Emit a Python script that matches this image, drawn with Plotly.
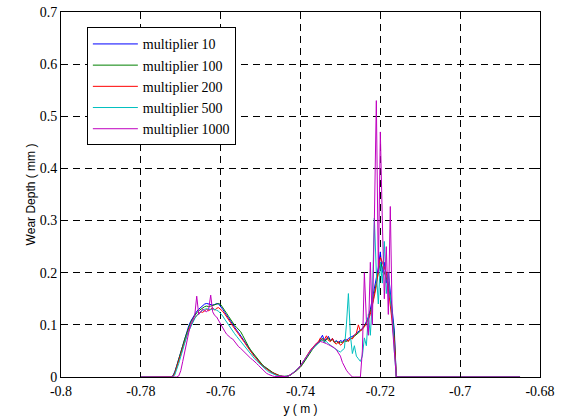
import plotly.graph_objects as go

# sampling grid (m)
X = [-0.78] + [round(-0.773 + 0.0005 * i, 4) for i in range(116)] + [-0.685]

m10 = [0, 0, 0.002, 0.01, 0.022, 0.035, 0.048, 0.062, 0.075, 0.088,
       0.098, 0.107, 0.114, 0.121, 0.126, 0.13, 0.134, 0.138, 0.14, 0.141,
       0.14, 0.139, 0.138, 0.139, 0.141, 0.14, 0.136, 0.13, 0.124, 0.118,
       0.112, 0.106, 0.1, 0.095, 0.09, 0.085, 0.079, 0.073, 0.067, 0.061,
       0.055, 0.05, 0.045, 0.04, 0.035, 0.03, 0.026, 0.022, 0.019, 0.016,
       0.013, 0.011, 0.008, 0.006, 0.004, 0.003, 0.002, 0.001, 0.001, 0.001,
       0.002, 0.004, 0.007, 0.01, 0.013, 0.016, 0.02, 0.026, 0.032, 0.04,
       0.046, 0.05, 0.055, 0.06, 0.064, 0.066, 0.072, 0.08, 0.07, 0.073,
       0.078, 0.07, 0.074, 0.067, 0.07, 0.066, 0.07, 0.068, 0.072, 0.07,
       0.074, 0.076, 0.078, 0.08, 0.084, 0.087, 0.09, 0.093, 0.098, 0.105,
       0.115, 0.13, 0.15, 0.165, 0.19, 0.21, 0.24, 0.2, 0.22, 0.18,
       0.2, 0.16, 0.12, 0.09, 0, 0]

m100 = [0, 0, 0.001, 0.008, 0.02, 0.033, 0.047, 0.06, 0.073, 0.085,
        0.096, 0.105, 0.112, 0.118, 0.123, 0.127, 0.13, 0.133, 0.135, 0.136,
        0.135, 0.136, 0.137, 0.139, 0.14, 0.141, 0.139, 0.134, 0.128, 0.122,
        0.116, 0.11, 0.104, 0.099, 0.095, 0.091, 0.087, 0.08, 0.072, 0.065,
        0.058, 0.052, 0.047, 0.042, 0.037, 0.032, 0.027, 0.023, 0.02, 0.017,
        0.014, 0.011, 0.009, 0.007, 0.005, 0.003, 0.002, 0.001, 0.001, 0.001,
        0.002, 0.004, 0.006, 0.009, 0.012, 0.015, 0.019, 0.024, 0.03, 0.037,
        0.043, 0.048, 0.053, 0.058, 0.062, 0.065, 0.07, 0.074, 0.068, 0.071,
        0.075, 0.069, 0.072, 0.066, 0.068, 0.065, 0.067, 0.066, 0.069, 0.068,
        0.07, 0.072, 0.075, 0.078, 0.081, 0.084, 0.088, 0.092, 0.097, 0.104,
        0.112, 0.125, 0.14, 0.16, 0.18, 0.2, 0.22, 0.21, 0.2, 0.19,
        0.18, 0.15, 0.11, 0.08, 0, 0]

m200 = [0, 0, 0.001, 0.007, 0.018, 0.03, 0.043, 0.056, 0.069, 0.08,
        0.09, 0.099, 0.107, 0.113, 0.118, 0.122, 0.125, 0.124, 0.128, 0.13,
        0.127, 0.13, 0.133, 0.128, 0.132, 0.133, 0.13, 0.126, 0.121, 0.116,
        0.11, 0.104, 0.098, 0.093, 0.088, 0.083, 0.078, 0.072, 0.066, 0.06,
        0.054, 0.049, 0.044, 0.039, 0.034, 0.029, 0.025, 0.021, 0.018, 0.015,
        0.012, 0.01, 0.008, 0.006, 0.004, 0.003, 0.002, 0.001, 0.001, 0.001,
        0.002, 0.004, 0.007, 0.01, 0.013, 0.017, 0.021, 0.027, 0.034, 0.041,
        0.047, 0.052, 0.056, 0.061, 0.065, 0.068, 0.075, 0.07, 0.072, 0.079,
        0.07, 0.068, 0.074, 0.066, 0.063, 0.068, 0.061, 0.064, 0.07, 0.072,
        0.068, 0.075, 0.073, 0.08, 0.084, 0.1, 0.088, 0.092, 0.096, 0.103,
        0.11, 0.12, 0.135, 0.155, 0.175, 0.2, 0.23, 0.22, 0.21, 0.2,
        0.17, 0.14, 0.1, 0.07, 0, 0]

m500 = [0, 0, 0, 0.004, 0.014, 0.026, 0.039, 0.053, 0.066, 0.078,
        0.088, 0.097, 0.105, 0.112, 0.118, 0.122, 0.126, 0.128, 0.13, 0.131,
        0.13, 0.129, 0.131, 0.13, 0.128, 0.126, 0.122, 0.117, 0.111, 0.105,
        0.099, 0.093, 0.088, 0.083, 0.078, 0.073, 0.068, 0.063, 0.058, 0.053,
        0.048, 0.043, 0.039, 0.035, 0.031, 0.027, 0.023, 0.019, 0.016, 0.013,
        0.01, 0.008, 0.006, 0.004, 0.003, 0.002, 0.001, 0.001, 0.001, 0.001,
        0.002, 0.004, 0.007, 0.01, 0.013, 0.017, 0.022, 0.028, 0.034, 0.04,
        0.045, 0.05, 0.054, 0.058, 0.061, 0.064, 0.07, 0.072, 0.066, 0.068,
        0.064, 0.06, 0.058, 0.055, 0.052, 0.05, 0.048, 0.052, 0.055, 0.1,
        0.16, 0.08, 0.045, 0.06, 0.04, 0.035, 0.03, 0.04, 0.075, 0.06,
        0.12, 0.08, 0.15, 0.305, 0.2, 0.14, 0.22, 0.18, 0.26, 0.16,
        0.2, 0.15, 0.12, 0.05, 0, 0]

m1000 = [0, 0, 0, 0, 0, 0.002, 0.012, 0.03, 0.05, 0.07,
         0.085, 0.1, 0.11, 0.118, 0.155, 0.12, 0.125, 0.13, 0.127, 0.125,
         0.13, 0.157, 0.125, 0.118, 0.115, 0.108, 0.1, 0.094, 0.088, 0.082,
         0.078, 0.075, 0.073, 0.068, 0.062, 0.058, 0.055, 0.051, 0.048, 0.044,
         0.04, 0.036, 0.033, 0.03, 0.026, 0.022, 0.018, 0.014, 0.01, 0.007,
         0.005, 0.003, 0.002, 0.001, 0.001, 0, 0, 0, 0.001, 0.001,
         0.002, 0.004, 0.007, 0.01, 0.013, 0.017, 0.022, 0.028, 0.034, 0.04,
         0.045, 0.05, 0.055, 0.06, 0.064, 0.066, 0.068, 0.067, 0.066, 0.064,
         0.062, 0.06, 0.058, 0.056, 0.052, 0.046, 0.04, 0.028, 0.02, 0.013,
         0.008, 0.003, 0, 0, 0, 0, 0, 0.05, 0.2, 0.11,
         0.08, 0.22, 0.1, 0.3, 0.53, 0.2, 0.47, 0.3, 0.15, 0.25,
         0.12, 0.327, 0.1, 0.05, 0, 0]

SERIES = [
    ("multiplier 10", m10, "#0000FF"),
    ("multiplier 100", m100, "#008000"),
    ("multiplier 200", m200, "#FF0000"),
    ("multiplier 500", m500, "#00BFBF"),
    ("multiplier 1000", m1000, "#BF00BF"),
]

X_TICKS = [-0.8, -0.78, -0.76, -0.74, -0.72, -0.7, -0.68]
X_LABELS = ["-0.8", "-0.78", "-0.76", "-0.74", "-0.72", "-0.7", "-0.68"]
Y_TICKS = [0, 0.1, 0.2, 0.3, 0.4, 0.5, 0.6, 0.7]
Y_LABELS = ["0", "0.1", "0.2", "0.3", "0.4", "0.5", "0.6", "0.7"]

fig = go.Figure()
for name, vals, col in SERIES:
    fig.add_trace(go.Scatter(x=X, y=[0] + vals + [0], mode="lines", name=name,
                             line=dict(color=col, width=1)))

serif = "Liberation Serif"
sans = "Liberation Sans"
axis_common = dict(
    showline=True, linecolor="black", linewidth=1, mirror="allticks",
    ticks="inside", ticklen=5, tickcolor="black", tickwidth=1,
    showgrid=True, gridcolor="black", gridwidth=1, griddash="7px,5px",
    zeroline=False, automargin=False,
    tickfont=dict(family=serif, size=14, color="black"),
)

fig.update_layout(
    width=564, height=416,
    margin=dict(l=61, r=24, t=12, b=39),
    paper_bgcolor="white", plot_bgcolor="white",
    xaxis=dict(range=[-0.8, -0.68], tickmode="array", tickvals=X_TICKS, ticktext=X_LABELS,
               ticklabelstandoff=1,
               title=dict(text="y ( m )", font=dict(family=sans, size=12, color="black"), standoff=8),
               **axis_common),
    yaxis=dict(range=[0, 0.7], tickmode="array", tickvals=Y_TICKS, ticktext=Y_LABELS,
               title=dict(text="Wear Depth ( mm )", font=dict(family=sans, size=12, color="black"), standoff=1),
               **axis_common),
    legend=dict(x=0.054, y=0.958, xanchor="left", yanchor="top",
                bgcolor="white", bordercolor="black", borderwidth=1, itemwidth=45,
                font=dict(family=serif, size=14, color="black"), tracegroupgap=0),
    showlegend=True,
)

fig.write_html("out.html")
